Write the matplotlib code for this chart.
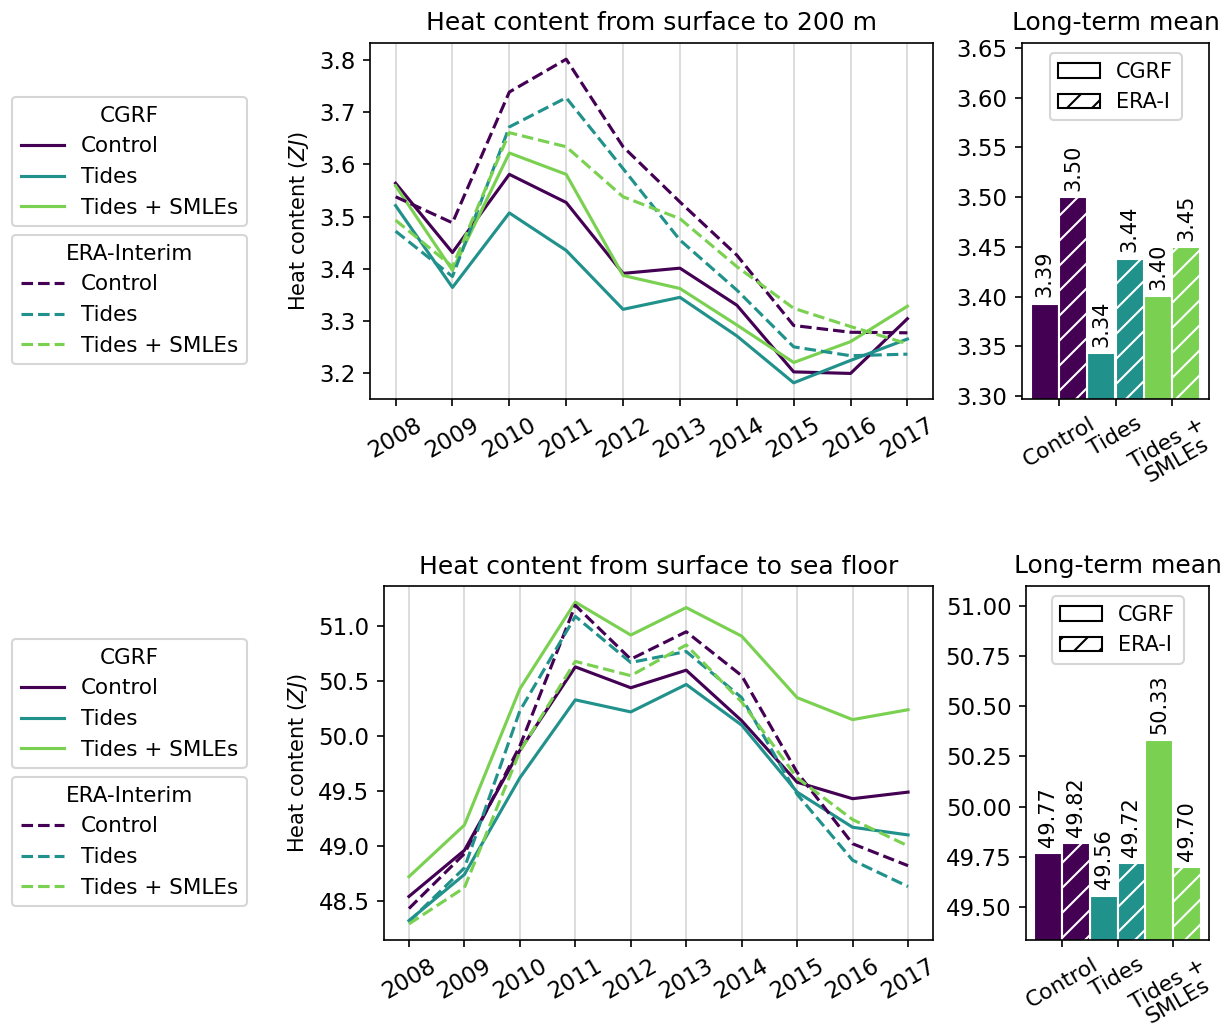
import matplotlib.pyplot as plt
import numpy as np
from matplotlib.patches import Patch
from matplotlib.lines import Line2D
from matplotlib.ticker import MultipleLocator

plt.rcParams['font.size'] = 10
plt.rcParams['xtick.labelsize'] = 11
plt.rcParams['ytick.labelsize'] = 11

years = np.arange(2008, 2018)
runs = ['Control', 'Tides', 'Tides + SMLEs']
run_ticks = ['Control', 'Tides', 'Tides +\nSMLEs']
colors = plt.cm.viridis([0.0, 0.5, 0.8])

# heat content, surface to 200 m (ZJ)
hc200_cgrf_control = [3.564, 3.431, 3.581, 3.527, 3.391, 3.401, 3.330, 3.202, 3.199, 3.304]
hc200_cgrf_tides = [3.521, 3.364, 3.507, 3.435, 3.322, 3.345, 3.271, 3.181, 3.224, 3.265]
hc200_cgrf_smle = [3.559, 3.397, 3.622, 3.581, 3.387, 3.362, 3.292, 3.220, 3.260, 3.328]
hc200_era_control = [3.538, 3.488, 3.739, 3.802, 3.634, 3.528, 3.426, 3.291, 3.278, 3.277]
hc200_era_tides = [3.472, 3.385, 3.672, 3.728, 3.592, 3.455, 3.359, 3.250, 3.233, 3.236]
hc200_era_smle = [3.493, 3.404, 3.661, 3.634, 3.538, 3.496, 3.404, 3.324, 3.289, 3.256]

# heat content, surface to sea floor (ZJ)
hcfull_cgrf_control = [48.54, 48.96, 49.87, 50.63, 50.44, 50.60, 50.14, 49.58, 49.43, 49.49]
hcfull_cgrf_tides = [48.32, 48.74, 49.62, 50.33, 50.22, 50.47, 50.10, 49.49, 49.17, 49.10]
hcfull_cgrf_smle = [48.72, 49.19, 50.43, 51.22, 50.92, 51.17, 50.91, 50.35, 50.15, 50.24]
hcfull_era_control = [48.43, 48.93, 49.91, 51.19, 50.70, 50.95, 50.55, 49.67, 49.02, 48.82]
hcfull_era_tides = [48.31, 48.80, 50.23, 51.09, 50.67, 50.77, 50.35, 49.47, 48.87, 48.63]
hcfull_era_smle = [48.29, 48.62, 49.86, 50.68, 50.55, 50.83, 50.31, 49.62, 49.24, 49.00]

panels = [
    dict(title='Heat content from surface to 200 m',
         cgrf=[hc200_cgrf_control, hc200_cgrf_tides, hc200_cgrf_smle],
         era=[hc200_era_control, hc200_era_tides, hc200_era_smle],
         bar_ylim=(3.297, 3.655), bar_step=0.05),
    dict(title='Heat content from surface to sea floor',
         cgrf=[hcfull_cgrf_control, hcfull_cgrf_tides, hcfull_cgrf_smle],
         era=[hcfull_era_control, hcfull_era_tides, hcfull_era_smle],
         bar_ylim=(49.335, 51.10), bar_step=0.25),
]

W, H = 1225, 1027
fig = plt.figure(figsize=(W / 150, H / 150), dpi=150)

# axes boxes in pixels: (left, top, right, bottom)
line_boxes = [(370, 43, 933, 399), (384, 586, 933, 940)]
bar_boxes = [(1022, 43, 1209, 399), (1026, 586, 1209, 940)]
legend_tops = [(97, 235), (639, 777)]


def rect(box):
    l, t, r, b = box
    return [l / W, 1 - b / H, (r - l) / W, (b - t) / H]


for p, lbox, bbox, ltops in zip(panels, line_boxes, bar_boxes, legend_tops):
    ax = fig.add_axes(rect(lbox))
    for i in range(3):
        ax.plot(years, p['cgrf'][i], '-', color=colors[i], lw=1.5)
    for i in range(3):
        ax.plot(years, p['era'][i], '--', color=colors[i], lw=1.5)
    ax.set_xticks(years)
    ax.tick_params(axis='x', rotation=30)
    ax.grid(axis='x', alpha=0.5)
    ax.set_ylabel(r'Heat content ($ZJ$)')
    ax.set_title(p['title'], fontsize=12)

    h_cgrf = [Line2D([], [], color=colors[i], ls='-', lw=1.5) for i in range(3)]
    h_era = [Line2D([], [], color=colors[i], ls='--', lw=1.5) for i in range(3)]
    fig.legend(h_cgrf, runs, title='CGRF', loc='upper left', borderaxespad=0,
               fontsize=10.3, title_fontsize=10.3,
               bbox_to_anchor=(12 / W, 1 - ltops[0] / H))
    fig.legend(h_era, runs, title='ERA-Interim', loc='upper left', borderaxespad=0,
               fontsize=10.3, title_fontsize=10.3,
               bbox_to_anchor=(12 / W, 1 - ltops[1] / H))

    # long-term means
    bx = fig.add_axes(rect(bbox))
    x = np.arange(3)
    w = 0.5
    mean_cgrf = [np.mean(s) for s in p['cgrf']]
    mean_era = [np.mean(s) for s in p['era']]
    b1 = bx.bar(x - w / 2, mean_cgrf, w, color=colors, edgecolor='white', lw=1)
    b2 = bx.bar(x + w / 2, mean_era, w, color=colors, edgecolor='white', lw=1, hatch='//')
    bx.bar_label(b1, fmt='%.2f', rotation=90, padding=3)
    bx.bar_label(b2, fmt='%.2f', rotation=90, padding=3)
    bx.set_ylim(*p['bar_ylim'])
    bx.yaxis.set_major_locator(MultipleLocator(p['bar_step']))
    bx.yaxis.set_major_formatter('{x:.2f}')
    bx.set_xticks(x)
    bx.set_xticklabels(run_ticks, linespacing=1.0, fontsize=10.5)
    bx.tick_params(axis='x', rotation=30)
    bx.set_title('Long-term mean', fontsize=12)
    bx.legend(handles=[Patch(facecolor='white', edgecolor='black', label='CGRF'),
                       Patch(facecolor='white', edgecolor='black', hatch='//', label='ERA-I')],
              loc='upper center')

fig.savefig('out.png', dpi=150)
